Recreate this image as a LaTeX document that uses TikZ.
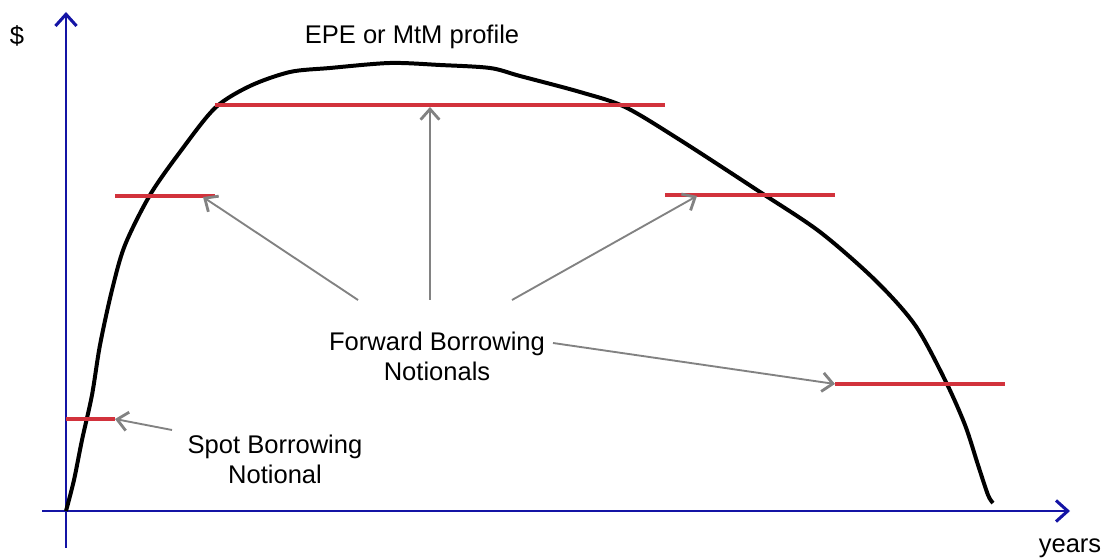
\documentclass[tikz,border=0pt]{standalone}
\usepackage{fontspec}
\setmainfont{Liberation Sans}
\usetikzlibrary{arrows.meta,calc}
\definecolor{axisblue}{RGB}{20,20,165}
\definecolor{notred}{RGB}{210,50,60}
\definecolor{ptrgray}{RGB}{130,130,130}
\tikzset{
  axis/.style={draw=axisblue,line width=0.9pt,-{Straight Barb[length=5pt,width=9pt,line width=1.3pt]}},
  notional/.style={draw=notred,line width=1.7pt},
  pointer/.style={draw=ptrgray,line width=0.8pt,-{Straight Barb[length=4.5pt,width=8pt,line width=1.2pt]}},
  lbl/.style={align=center,font=\fontsize{10.9}{12.8}\selectfont,inner sep=0pt}
}
\begin{document}
\begin{tikzpicture}[x=0.015cm,y=-0.015cm]
  \useasboundingbox (0,0) rectangle (1105,559);

  \coordinate (o) at (66,511);
  \coordinate (ytop) at (66,12);
  \coordinate (ybot) at (66,548);
  \coordinate (xleft) at (42,511);
  \coordinate (xright) at (1070,511);

  \draw[axisblue,line width=0.9pt] (ybot) -- (o);
  \draw[axis] (o) -- (ytop);
  \draw[axis] (xleft) -- (xright);

  \node[lbl] (dollar) at (17,36) {\$};
  \node[lbl] (years) at (1070,548) {years};
  \node[lbl] (title) at (412,37) {EPE or MtM profile};

  % the profile
  \draw[black,line width=1.7pt,line join=round] plot[smooth,tension=0.5] coordinates {
    (66,511) (74,480) (82,440) (92,395) (100,345) (112,290) (125,245)
    (150,195) (180,152) (215,108) (250,86) (290,72) (330,68) (390,63)
    (440,65) (490,68) (520,76) (580,92) (625,107) (680,140) (760,192)
    (820,232) (875,280) (915,325) (945,380) (965,425) (978,465) (988,495) (993,503)};

  % notionals
  \coordinate (s0) at (66,419);   \coordinate (s1) at (115,419);
  \coordinate (a0) at (115,196);  \coordinate (a1) at (215,196);
  \coordinate (b0) at (215,105);  \coordinate (b1) at (665,105);
  \coordinate (c0) at (665,195);  \coordinate (c1) at (835,195);
  \coordinate (d0) at (835,384);  \coordinate (d1) at (1005,384);

  \draw[notional] (s0) -- (s1);
  \draw[notional] (a0) -- (a1);
  \draw[notional] (b0) -- (b1);
  \draw[notional] (c0) -- (c1);
  \draw[notional] (d0) -- (d1);

  \node[lbl] (fwd) at (437,356) {Forward Borrowing\\Notionals};
  \node[lbl] (spot) at (275,459) {Spot Borrowing\\Notional};

  \coordinate (f1) at (358,300);
  \coordinate (f2) at (430,300);
  \coordinate (f3) at (512,300);
  \coordinate (f4) at (553,343);
  \coordinate (sp) at (172,430);

  \draw[pointer] (f1) -- (203,197);
  \draw[pointer] (f2) -- (430,107);
  \draw[pointer] (f3) -- (697,196);
  \draw[pointer] (f4) -- (d0);
  \draw[pointer] (sp) -- (s1);
\end{tikzpicture}
\end{document}
